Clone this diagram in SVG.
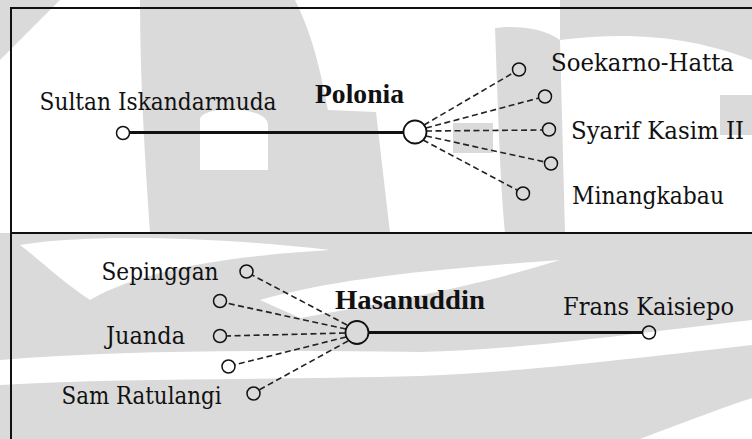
<svg xmlns="http://www.w3.org/2000/svg" width="752" height="439" viewBox="0 0 752 439">
  <style>
    .lbl { font-family: "DejaVu Serif", "Liberation Serif", serif; font-size: 24px; font-weight: normal; fill: #111; }
    .hub-lbl { font-family: "Liberation Serif", "Times New Roman", "DejaVu Serif", serif; font-size: 28px; font-weight: bold; fill: #111; }
    .solid { stroke: #111; stroke-width: 3; fill: none; }
    .dash { stroke: #222; stroke-width: 1.6; stroke-dasharray: 6 3.5; fill: none; }
    .hub { fill: none; stroke: #111; stroke-width: 1.8; }
    .leaf { fill: none; stroke: #111; stroke-width: 1.5; }
    .wm { fill: #dadada; }
    .wmw { fill: #ffffff; }
    .frame { stroke: #111; stroke-width: 2; fill: none; }
  </style>

  <!-- background / watermark -->
  <g id="watermark">
    <rect x="0" y="0" width="752" height="439" fill="#ffffff"/>
    <path class="wm" fill-rule="evenodd" d="M140,0 L295,0 C315,40 322,80 328,110 L376,112 L390,233 L150,233 C145,160 140,80 140,0 Z M200,120 C200,105 268,105 268,125 L268,170 L200,170 Z"/>
    <path class="wm" d="M495,28 C515,25 545,28 560,40 L565,233 L505,233 C500,180 498,110 495,28 Z"/>
    <path class="wm" d="M453,123 L493,123 L493,153 L453,153 Z"/>
    <path class="wm" d="M560,0 L752,0 L752,60 C700,40 640,30 560,40 Z"/>
    <path class="wm" d="M720,95 L752,95 L752,135 L720,135 Z"/>
    <path class="wm" d="M0,0 L60,0 L0,60 Z"/>
    <rect class="wm" x="0" y="233" width="752" height="206"/>
    <path class="wmw" d="M20,245 C80,235 200,235 330,250 C250,255 150,265 90,300 C60,280 40,260 20,245 Z"/>
    <path class="wmw" d="M260,300 C330,280 420,270 560,260 C480,285 400,300 300,318 Z"/>
    <path class="wmw" d="M0,360 C120,350 260,350 420,352 C520,350 620,335 752,320 L752,345 C620,360 520,372 420,376 C260,380 120,378 0,385 Z"/>
    <path class="wmw" d="M640,439 C690,420 730,405 752,398 L752,439 Z"/>
  </g>

  <g id="frame">
    <path class="frame" d="M11,439 L11,8 L752,8"/>
    <line class="frame" x1="11" y1="233" x2="752" y2="233"/>
  </g>

  <g id="connectors">
    <line class="solid" x1="129.5" y1="132.5" x2="403" y2="132.5"/>
    <line class="dash" x1="424" y1="125" x2="513" y2="73"/>
    <line class="dash" x1="426" y1="128" x2="539" y2="98"/>
    <line class="dash" x1="426" y1="131" x2="542" y2="130"/>
    <line class="dash" x1="426" y1="136" x2="545" y2="162"/>
    <line class="dash" x1="423" y1="140" x2="517" y2="190"/>

    <line class="solid" x1="368" y1="332.5" x2="642" y2="332.5"/>
    <line class="dash" x1="347" y1="325" x2="252" y2="275"/>
    <line class="dash" x1="346" y1="329" x2="226" y2="303"/>
    <line class="dash" x1="345" y1="333" x2="226" y2="336"/>
    <line class="dash" x1="346" y1="337" x2="234" y2="365"/>
    <line class="dash" x1="348" y1="341" x2="259" y2="390"/>
  </g>

  <g id="polonia">
    <circle class="hub" cx="415" cy="132" r="11.5"/>
    <text class="hub-lbl" x="315" y="103" textLength="89" lengthAdjust="spacingAndGlyphs">Polonia</text>
  </g>
  <g id="sultan-iskandarmuda">
    <circle class="leaf" cx="123" cy="133" r="6.5"/>
    <text class="lbl" x="39.5" y="109.5" textLength="237" lengthAdjust="spacingAndGlyphs">Sultan Iskandarmuda</text>
  </g>
  <g id="soekarno-hatta">
    <circle class="leaf" cx="519" cy="69.5" r="6.5"/>
    <text class="lbl" x="551" y="71" textLength="183" lengthAdjust="spacingAndGlyphs">Soekarno-Hatta</text>
  </g>
  <g id="polonia-leaf-2">
    <circle class="leaf" cx="545" cy="96.5" r="6.5"/>
  </g>
  <g id="syarif-kasim-ii">
    <circle class="leaf" cx="549" cy="129.5" r="6.5"/>
    <text class="lbl" x="571" y="138.5" textLength="173" lengthAdjust="spacingAndGlyphs">Syarif Kasim II</text>
  </g>
  <g id="polonia-leaf-4">
    <circle class="leaf" cx="551" cy="163.5" r="6.5"/>
  </g>
  <g id="minangkabau">
    <circle class="leaf" cx="523" cy="193.5" r="6.5"/>
    <text class="lbl" x="572" y="203.5" textLength="152" lengthAdjust="spacingAndGlyphs">Minangkabau</text>
  </g>

  <g id="hasanuddin">
    <circle class="hub" cx="357" cy="332.5" r="11.5"/>
    <text class="hub-lbl" x="335" y="308.5" textLength="150" lengthAdjust="spacingAndGlyphs">Hasanuddin</text>
  </g>
  <g id="frans-kaisiepo">
    <circle class="leaf" cx="649" cy="332.5" r="6.5"/>
    <text class="lbl" x="563" y="315" textLength="171" lengthAdjust="spacingAndGlyphs">Frans Kaisiepo</text>
  </g>
  <g id="sepinggan">
    <circle class="leaf" cx="246.5" cy="271.5" r="6.5"/>
    <text class="lbl" x="101.5" y="279.5" textLength="117" lengthAdjust="spacingAndGlyphs">Sepinggan</text>
  </g>
  <g id="hasanuddin-leaf-2">
    <circle class="leaf" cx="220" cy="301" r="6.5"/>
  </g>
  <g id="juanda">
    <circle class="leaf" cx="220" cy="336" r="6.5"/>
    <text class="lbl" x="106" y="344" textLength="79" lengthAdjust="spacingAndGlyphs">Juanda</text>
  </g>
  <g id="hasanuddin-leaf-4">
    <circle class="leaf" cx="228.5" cy="366.5" r="6.5"/>
  </g>
  <g id="sam-ratulangi">
    <circle class="leaf" cx="253.5" cy="393.5" r="6.5"/>
    <text class="lbl" x="61.5" y="403.5" textLength="160" lengthAdjust="spacingAndGlyphs">Sam Ratulangi</text>
  </g>
</svg>
